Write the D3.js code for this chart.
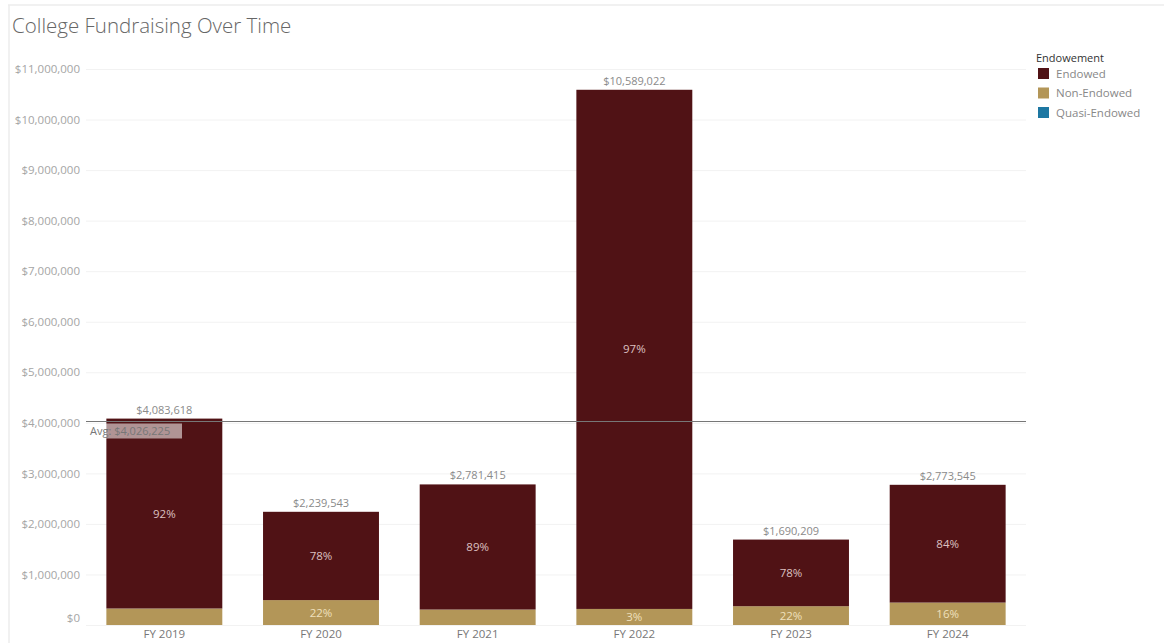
<!DOCTYPE html>
<html>
<head>
<meta charset="utf-8">
<script src="https://cdn.jsdelivr.net/npm/d3@7"></script>
<style>
  body { margin: 0; background: #fff; }
  svg { font-family: "Open Sans", "Noto Sans", sans-serif; }
</style>
</head>
<body>
<svg id="chart"></svg>
<script>
// Data
let years = ['FY 2019', 'FY 2020', 'FY 2021', 'FY 2022', 'FY 2023', 'FY 2024']
let totals = [4083618, 2239543, 2781415, 10589022, 1690209, 2773545]
let endowed = [3756929, 1746844, 2475459, 10271351, 1318363, 2329778]
let nonEndowed = [326689, 492699, 305956, 317671, 371846, 443767]
let quasiEndowed = [0, 0, 0, 0, 0, 0]
let endowedLabels = ['92%', '78%', '89%', '97%', '78%', '84%']
let nonEndowedLabels = ['', '22%', '', '3%', '22%', '16%']
let yTicks = [0, 1000000, 2000000, 3000000, 4000000, 5000000, 6000000, 7000000, 8000000, 9000000, 10000000, 11000000]
let average = 4026225
let seriesNames = ['Endowed', 'Non-Endowed', 'Quasi-Endowed']
let seriesColors = ['#501215', '#b39658', '#1d77a2']

let width = 1164
let height = 643
let plot = { left: 86, right: 1026, top: 69, bottom: 625 }

let svg = d3.select('#chart')
    .attr('width', width)
    .attr('height', height)

// Frame
svg.append('line')
    .attr('x1', 8).attr('x2', width).attr('y1', 5).attr('y2', 5)
    .attr('stroke', '#ececec').attr('stroke-width', 1.5)
svg.append('line')
    .attr('x1', 9).attr('x2', 9).attr('y1', 5).attr('y2', height)
    .attr('stroke', '#ececec').attr('stroke-width', 1.5)

// Title
svg.append('text')
    .attr('x', 12)
    .attr('y', 33)
    .attr('fill', '#666')
    .attr('font-size', 20.5)
    .attr('font-weight', 300)
    .text('College Fundraising Over Time')

// Scales
let scale = {
    x: d3.scaleBand().domain(years).range([plot.left, plot.right]).paddingInner(0.26).paddingOuter(0.13),
    y: d3.scaleLinear().domain([0, 11000000]).range([plot.bottom, plot.top])
}

// Gridlines
svg.append('g')
    .attr('class', 'grid')
    .attr('transform', `translate(${plot.left},0)`)
    .call(d3.axisLeft(scale.y).tickValues(yTicks).tickFormat('').tickSize(-(plot.right - plot.left)))
    .call(g => g.select('.domain').remove())
    .call(g => g.selectAll('line').attr('stroke', '#f2f2f2'))

// Y axis labels
svg.append('g')
    .attr('transform', `translate(${plot.left},0)`)
    .call(d3.axisLeft(scale.y).tickValues(yTicks).tickSize(0).tickPadding(6)
        .tickFormat(d => '$' + d3.format(',')(d)))
    .call(g => g.select('.domain').remove())
    .call(g => g.selectAll('text')
        .attr('fill', '#a5a5a5')
        .attr('font-size', 11.5)
        .attr('font-family', '"Open Sans", sans-serif')
        .attr('dy', (d) => d === 0 ? '-0.3em' : '0.32em'))

// Stacked bars
let table = years.map((y, i) => ({
    year: y, Endowed: endowed[i], 'Non-Endowed': nonEndowed[i], 'Quasi-Endowed': quasiEndowed[i]
}))
let stack = d3.stack().keys(['Non-Endowed', 'Endowed', 'Quasi-Endowed'])(table)
let color = d3.scaleOrdinal().domain(seriesNames).range(seriesColors)

svg.append('g')
    .selectAll('g')
    .data(stack)
    .join('g')
    .attr('fill', d => color(d.key))
    .selectAll('rect')
    .data(d => d)
    .join('rect')
    .attr('x', d => scale.x(d.data.year))
    .attr('width', scale.x.bandwidth())
    .attr('y', d => scale.y(d[1]))
    .attr('height', d => scale.y(d[0]) - scale.y(d[1]))

// Segment labels
let nonLayer = stack[0]
let endLayer = stack[1]
svg.append('g')
    .selectAll('text')
    .data(endLayer)
    .join('text')
    .attr('x', d => scale.x(d.data.year) + scale.x.bandwidth() / 2)
    .attr('y', d => scale.y((d[0] + d[1]) / 2))
    .attr('dy', '0.35em')
    .attr('text-anchor', 'middle')
    .attr('fill', '#dcc0c0')
    .attr('font-size', 11.5)
    .text((d, i) => endowedLabels[i])

svg.append('g')
    .selectAll('text')
    .data(nonLayer)
    .join('text')
    .attr('x', d => scale.x(d.data.year) + scale.x.bandwidth() / 2)
    .attr('y', d => scale.y((d[0] + d[1]) / 2))
    .attr('dy', '0.35em')
    .attr('text-anchor', 'middle')
    .attr('fill', '#efe0bd')
    .attr('font-size', 11.5)
    .text((d, i) => nonEndowedLabels[i])

// Total labels
svg.append('g')
    .selectAll('text')
    .data(totals)
    .join('text')
    .attr('x', (d, i) => scale.x(years[i]) + scale.x.bandwidth() / 2)
    .attr('y', d => scale.y(d) - 5)
    .attr('text-anchor', 'middle')
    .attr('fill', '#8a8a8a')
    .attr('font-size', 11)
    .text(d => '$' + d3.format(',')(d))

// Average line
svg.append('line')
    .attr('x1', plot.left)
    .attr('x2', plot.right)
    .attr('y1', scale.y(average))
    .attr('y2', scale.y(average))
    .attr('stroke', '#777')
    .attr('stroke-width', 1.2)

svg.append('rect')
    .attr('x', 88)
    .attr('y', scale.y(average) + 2)
    .attr('width', 94)
    .attr('height', 15)
    .attr('fill', '#fff')
    .attr('opacity', 0.55)

svg.append('text')
    .attr('x', 90)
    .attr('y', scale.y(average) + 14)
    .attr('fill', '#777')
    .attr('font-size', 11)
    .text('Avg: $' + d3.format(',')(average))

// X axis labels
svg.append('g')
    .attr('transform', `translate(0,${plot.bottom})`)
    .call(d3.axisBottom(scale.x).tickSize(0).tickPadding(5))
    .call(g => g.select('.domain').remove())
    .call(g => g.selectAll('text')
        .attr('fill', '#777')
        .attr('font-size', 11.5)
        .attr('font-family', '"Open Sans", sans-serif'))

// Legend
let legend = svg.append('g').attr('transform', 'translate(1036,0)')
legend.append('text')
    .attr('x', 0)
    .attr('y', 62)
    .attr('fill', '#333')
    .attr('font-size', 11)
    .text('Endowement')

let items = legend.selectAll('g.item')
    .data(seriesNames)
    .join('g')
    .attr('class', 'item')
    .attr('transform', (d, i) => `translate(0,${68 + i * 19.5})`)
items.append('rect')
    .attr('x', 2)
    .attr('width', 11)
    .attr('height', 11)
    .attr('fill', d => color(d))
items.append('text')
    .attr('x', 20)
    .attr('y', 9.5)
    .attr('fill', '#888')
    .attr('font-size', 11.5)
    .text(d => d)
</script>
</body>
</html>
